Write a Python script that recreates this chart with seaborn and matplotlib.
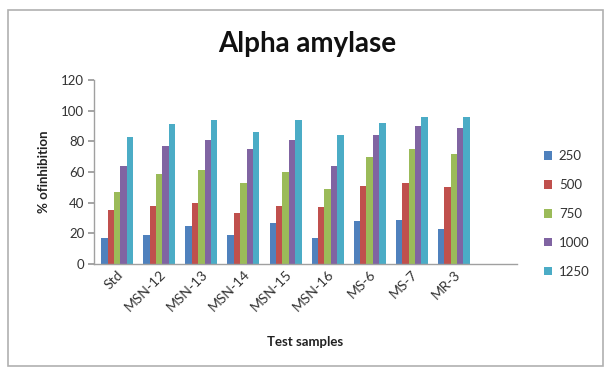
import matplotlib
matplotlib.use("Agg")
import matplotlib.pyplot as plt
import seaborn as sns
import pandas as pd
from matplotlib.patches import Rectangle

samples = ["Std", "MSN-12", "MSN-13", "MSN-14", "MSN-15", "MSN-16", "MS-6", "MS-7", "MR-3"]
doses = ["250", "500", "750", "1000", "1250"]
inh_250 = [17, 19, 25, 19, 27, 17, 28, 29, 23]
inh_500 = [35, 38, 40, 33, 38, 37, 51, 53, 50]
inh_750 = [47, 59, 61, 53, 60, 49, 70, 75, 72]
inh_1000 = [64, 77, 81, 75, 81, 64, 84, 90, 89]
inh_1250 = [83, 91, 94, 86, 94, 84, 92, 96, 96]
colors = ["#4F81BD", "#C0504D", "#9BBB59", "#8064A2", "#4BACC6"]

series = [inh_250, inh_500, inh_750, inh_1000, inh_1250]
rows = []
for dose, vals in zip(doses, series):
    for s, v in zip(samples, vals):
        rows.append({"sample": s, "dose": dose, "value": v})
df = pd.DataFrame(rows)

sns.set_theme(style="white")
plt.rcParams["font.family"] = ["Lato", "DejaVu Sans"]

fig = plt.figure(figsize=(6.06, 3.69), dpi=100)
ax = fig.add_axes([94 / 606, 1 - 264 / 369, (517 - 94) / 606, (264 - 80) / 369])

sns.barplot(data=df, x="sample", y="value", hue="dose", order=samples,
            hue_order=doses, palette=colors, ax=ax, width=0.76,
            saturation=1, errorbar=None, edgecolor="none")

ax.set_ylim(0, 120)
ax.set_yticks(range(0, 121, 20))
ax.set_xlim(-0.55, 9.5)
ax.tick_params(axis="y", labelsize=9.5, colors="#333333", length=4,
               direction="out", left=True, color="#999999", pad=3)
ax.tick_params(axis="x", labelsize=10, colors="#333333", length=0, pad=3)
plt.setp(ax.get_xticklabels(), rotation=45, ha="right", rotation_mode="anchor")
for side in ["top", "right"]:
    ax.spines[side].set_visible(False)
for side in ["left", "bottom"]:
    ax.spines[side].set_color("#A0A0A0")
    ax.spines[side].set_linewidth(1)

ax.set_xlabel("Test samples", fontsize=9.5, fontweight="bold", color="#222222", labelpad=16)
ax.set_ylabel("% ofinhibition", fontsize=9.5, fontweight="bold", color="#222222", labelpad=8)

fig.text(307 / 606, 1 - 44 / 369, "Alpha amylase", ha="center", va="center",
         fontsize=20, fontweight="bold", color="#111111")

handles, labels = ax.get_legend_handles_labels()
leg = ax.legend(handles, labels, loc="center left", bbox_to_anchor=(539 / 606, 1 - 214 / 369),
                bbox_transform=fig.transFigure, frameon=False, fontsize=9.5,
                handlelength=0.6, handleheight=0.6, handletextpad=0.5,
                labelspacing=1.28, borderaxespad=0)
for t in leg.get_texts():
    t.set_color("#333333")

fig.patches.append(Rectangle((8 / 606, 1 - 366 / 369), (603 - 8) / 606, (366 - 10) / 369,
                             transform=fig.transFigure, fill=False,
                             edgecolor="#B0B0B0", linewidth=1.2))

fig.savefig("out.png", dpi=100)
